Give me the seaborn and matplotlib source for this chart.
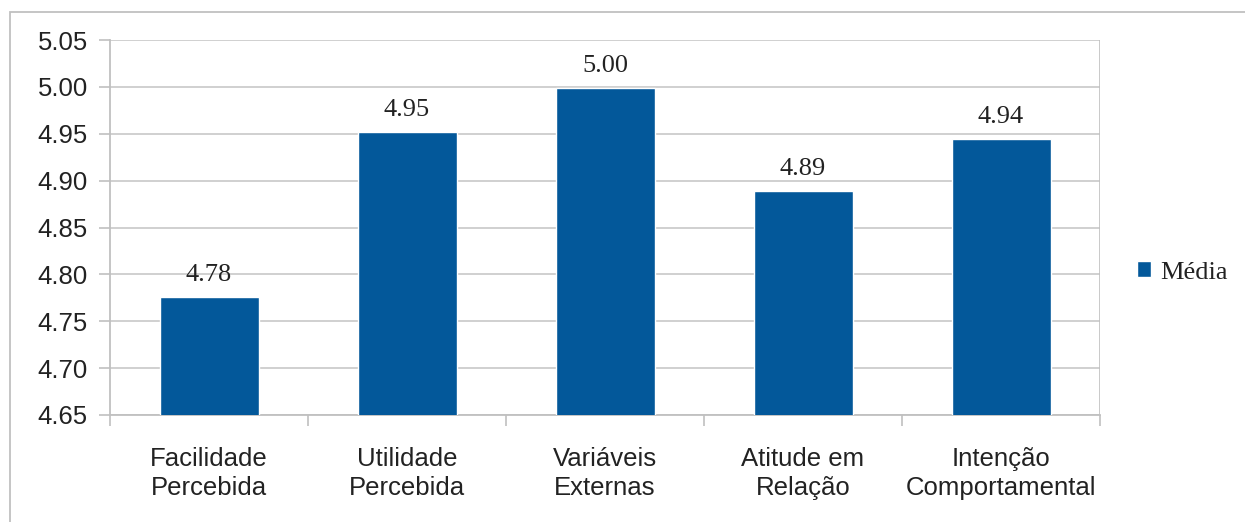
import matplotlib
matplotlib.use("Agg")
import matplotlib.pyplot as plt
import seaborn as sns
import pandas as pd
import numpy as np
from matplotlib.patches import Rectangle
from matplotlib.ticker import FixedLocator

categories = ["Facilidade\nPercebida", "Utilidade\nPercebida", "Variáveis\nExternas",
              "Atitude em\nRelação", "Intenção\nComportamental"]
values = [4.776, 4.952, 4.999, 4.889, 4.944]
value_labels = ["4.78", "4.95", "5.00", "4.89", "4.94"]
series_name = "Média"
yticks = [4.65, 4.70, 4.75, 4.80, 4.85, 4.90, 4.95, 5.00, 5.05]

sns.set_theme(style="white")
plt.rcParams["font.family"] = ["Liberation Sans", "DejaVu Sans"]

df = pd.DataFrame({"cat": categories, "val": values, "serie": series_name})

fig = plt.figure(figsize=(12.45, 5.22), dpi=100)
fig.patches.append(Rectangle((9.5/1245, -0.01), 1.2, (522-12)/522 + 0.01, transform=fig.transFigure,
                             fill=False, edgecolor="#c0c0c0", linewidth=1.3, zorder=0))
ax = fig.add_axes([110/1245, (522-415)/522, 990/1245, 375/522])

bar_color = "#03589a"
sns.barplot(data=df, x="cat", y="val", hue="serie", palette=[bar_color], width=0.5,
            ax=ax, saturation=1, legend=True, zorder=3)

ax.set_ylim(4.65, 5.05)
ax.set_xlim(-0.5, 4.5)
ax.set_yticks(yticks)
ax.set_yticklabels([f"{t:.2f}" for t in yticks], fontsize=18.5, color="#222222")
ax.set_xlabel("")
ax.set_ylabel("")
ax.tick_params(axis="x", which="major", length=0, pad=23, labelsize=18.5, labelcolor="#222222")
ax.xaxis.set_minor_locator(FixedLocator(np.arange(-0.5, 5.0, 1.0)))
ax.tick_params(axis="x", which="minor", length=8, width=1.2, color="#c0c0c0", direction="out", bottom=True)
ax.tick_params(axis="y", which="major", length=8, width=1.2, color="#c0c0c0", direction="out", left=True, pad=8)
for lab in ax.get_xticklabels():
    lab.set_linespacing(1.25)

ax.grid(axis="y", color="#c8c8c8", linewidth=1.2, zorder=0)
ax.set_axisbelow(True)
for s in ["top", "right"]:
    ax.spines[s].set_visible(False)
for s in ["left", "bottom"]:
    ax.spines[s].set_color("#c0c0c0")
    ax.spines[s].set_linewidth(1.3)
ax.axvline(4.5, color="#c0c0c0", linewidth=1.2, zorder=1)

for cont in ax.containers:
    ax.bar_label(cont, labels=value_labels, padding=8, fontsize=19,
                 family=["Liberation Serif", "DejaVu Serif"], color="#222222")

leg = ax.legend(loc="center left", bbox_to_anchor=(1.013, 0.38), frameon=False,
                prop={"family": ["Liberation Serif", "DejaVu Serif"], "size": 19},
                handlelength=0.55, handleheight=0.55, handletextpad=0.35)
for t in leg.get_texts():
    t.set_color("#222222")

fig.savefig("out.png", dpi=100)
